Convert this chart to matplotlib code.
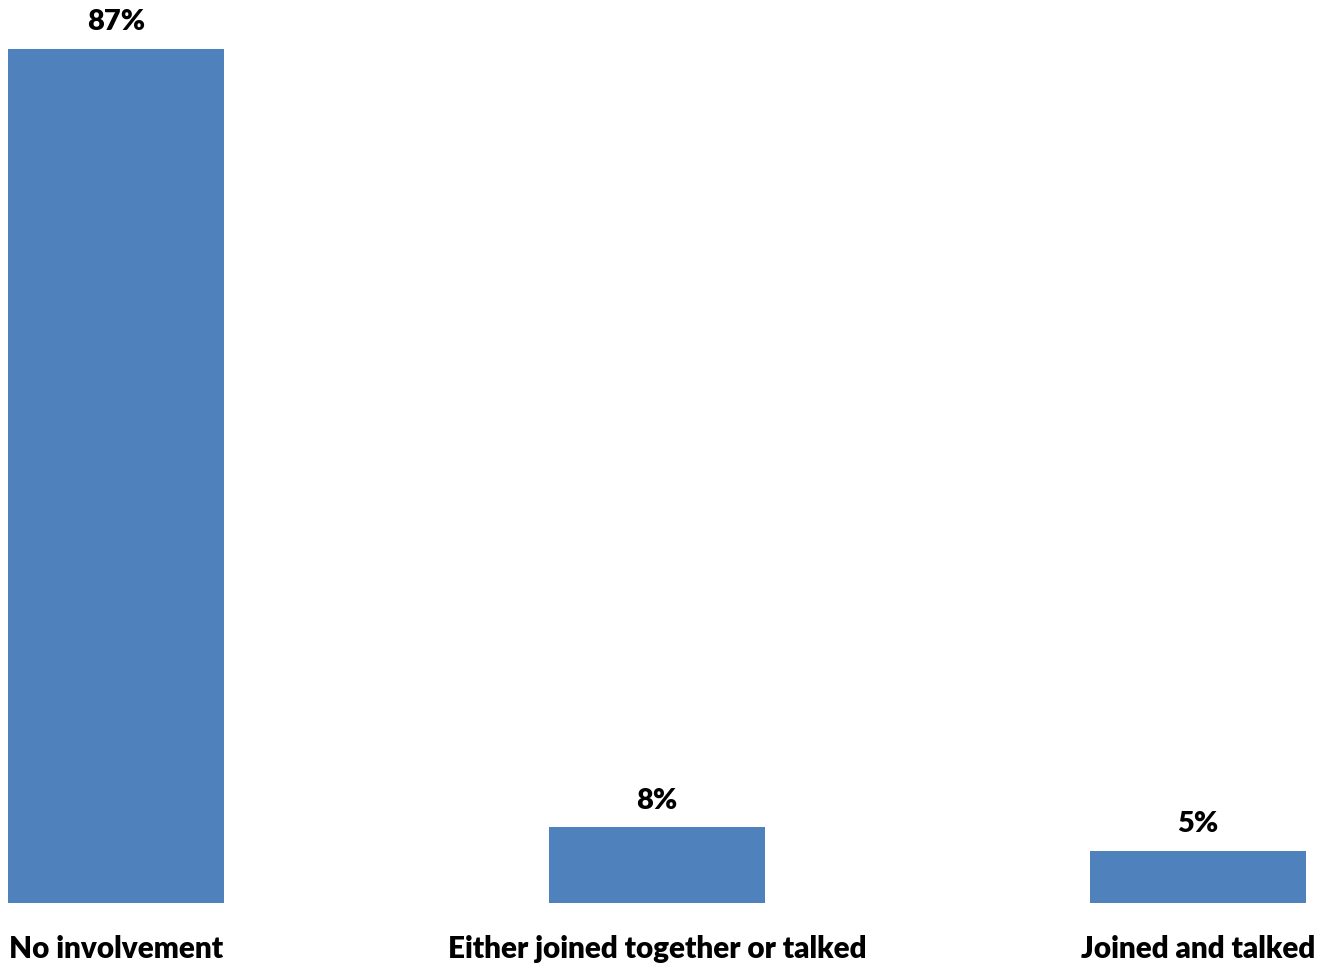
import matplotlib
matplotlib.use("Agg")
import matplotlib.pyplot as plt

categories = ["No involvement", "Either joined together or talked", "Joined and talked"]
values = [87, 7.7, 5.3]
value_labels = ["87%", "8%", "5%"]

plt.rcParams['font.family'] = ['Lato', 'DejaVu Sans']

fig = plt.figure(figsize=(13.17, 9.66), dpi=100)
ax = fig.add_axes([0, 63/966, 1, 1 - 63/966])
x = list(range(len(categories)))
bars = ax.bar(x, values, width=216/541, color="#4F81BD")
ax.set_xlim(-116/541, (1317-116)/541)
ax.set_ylim(0, 87 + 49/9.816)
for xi, v, lab in zip(x, values, value_labels):
    ax.annotate(lab, (xi, v), xytext=(0, 10), textcoords="offset points",
                ha="center", va="bottom", fontsize=21, fontweight="heavy", color="black")
ax.set_xticks(x)
ax.set_xticklabels(categories, fontsize=21.3, fontweight="heavy")
ax.tick_params(axis="x", length=0, pad=23)
ax.set_yticks([])
for s in ax.spines.values():
    s.set_visible(False)
fig.savefig("out.png", dpi=100)
